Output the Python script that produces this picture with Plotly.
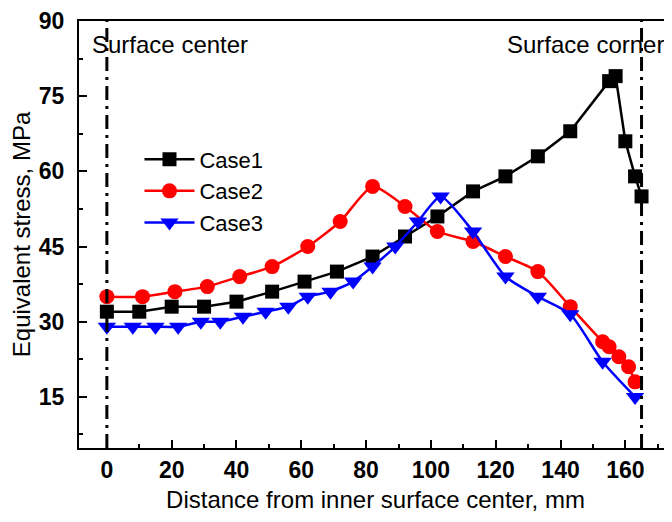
import plotly.graph_objects as go

# values
case1_x = [0, 10, 20, 30, 40, 51, 61, 71, 82, 92, 102, 113, 123, 133, 143, 155, 157, 160, 163, 165]
case1_y = [32, 32, 33, 33, 34, 36, 38, 40, 43, 47, 51, 56, 59, 63, 68, 78, 79, 66, 59, 55]

case2_x = [0, 11, 21, 31, 41, 51, 62, 72, 82, 92, 102, 113, 123, 133, 143, 153, 155, 158, 161, 163]
case2_y = [35, 35, 36, 37, 39, 41, 45, 50, 57, 53, 48, 46, 43, 40, 33, 26, 25, 23, 21, 18]

case3_x = [0, 8, 15, 22, 29, 35, 42, 49, 56, 62, 69, 76, 82, 89, 96, 103, 113, 123, 133, 143, 153, 163]
case3_y = [29, 29, 29, 29, 30, 30, 31, 32, 33, 35, 36, 38, 41, 45, 50, 55, 48, 39, 35, 31.5, 22, 15]

FONT = "Arial, Liberation Sans, sans-serif"

fig = go.Figure()
fig.add_trace(go.Scatter(
    x=case1_x, y=case1_y, name="Case1", mode="lines+markers",
    line=dict(color="black", width=2.5),
    marker=dict(symbol="square", size=14, color="black"),
))
fig.add_trace(go.Scatter(
    x=case2_x, y=case2_y, name="Case2", mode="lines+markers",
    line=dict(color="#ff0000", width=2.5, shape="spline", smoothing=0.6),
    marker=dict(symbol="circle", size=15, color="#ff0000"),
))
fig.add_trace(go.Scatter(
    x=case3_x, y=case3_y, name="Case3", mode="lines+markers",
    line=dict(color="#0000ff", width=2.5, shape="spline", smoothing=0.6),
    marker=dict(symbol="triangle-down", size=16, color="#0000ff"),
))

# dash-dot boundaries
for xv in [0, 165]:
    fig.add_shape(type="line", x0=xv, x1=xv, y0=0, y1=1, xref="x", yref="paper",
                  line=dict(color="black", width=3, dash="14px,6px,3px,6px"))

fig.add_annotation(text="Surface center", x=0.018, y=0.944, xref="paper", yref="paper",
                   xanchor="left", yanchor="middle", showarrow=False,
                   font=dict(size=24, color="black", family=FONT))
fig.add_annotation(text="Surface corner", x=0.99, y=0.944, xref="paper", yref="paper",
                   xanchor="right", yanchor="middle", showarrow=False,
                   font=dict(size=24, color="black", family=FONT))

fig.update_xaxes(
    range=[-8.6, 174.4], tickmode="linear", tick0=0, dtick=20,
    ticks="inside", ticklen=8, tickwidth=1.5, tickcolor="black",
    minor=dict(ticks="inside", ticklen=4, dtick=10, tickcolor="black", tickwidth=1.5),
    showline=True, linecolor="black", linewidth=2, mirror=True,
    showgrid=False, zeroline=False, automargin=False, ticklabelstandoff=0,
    tickfont=dict(size=23, color="black", family=FONT, weight="bold"),
    title=dict(text="Distance from inner surface center, mm",
               font=dict(size=24, color="black", family=FONT), standoff=10),
)
fig.update_yaxes(
    range=[4.8, 90], tickmode="linear", tick0=15, dtick=15,
    ticks="inside", ticklen=8, tickwidth=1.5, tickcolor="black",
    minor=dict(ticks="inside", ticklen=4, dtick=7.5, tickcolor="black", tickwidth=1.5),
    showline=True, linecolor="black", linewidth=2, mirror=False,
    showgrid=False, zeroline=False, automargin=False, ticklabelstandoff=8,
    tickfont=dict(size=23, color="black", family=FONT, weight="bold"),
    title=dict(text="Equivalent stress, MPa",
               font=dict(size=24, color="black", family=FONT), standoff=4),
)

# the page body has an 8px margin, so the figure is sized to fit inside it
fig.update_layout(
    width=664, height=506,
    margin=dict(l=71, r=0, t=13, b=66),
    plot_bgcolor="white", paper_bgcolor="white",
    showlegend=True,
    legend=dict(x=0.102, y=0.725, xanchor="left", yanchor="top",
                bgcolor="rgba(0,0,0,0)", tracegroupgap=0, itemwidth=50,
                font=dict(size=22, color="black", family=FONT)),
)

fig.write_html("out.html")
